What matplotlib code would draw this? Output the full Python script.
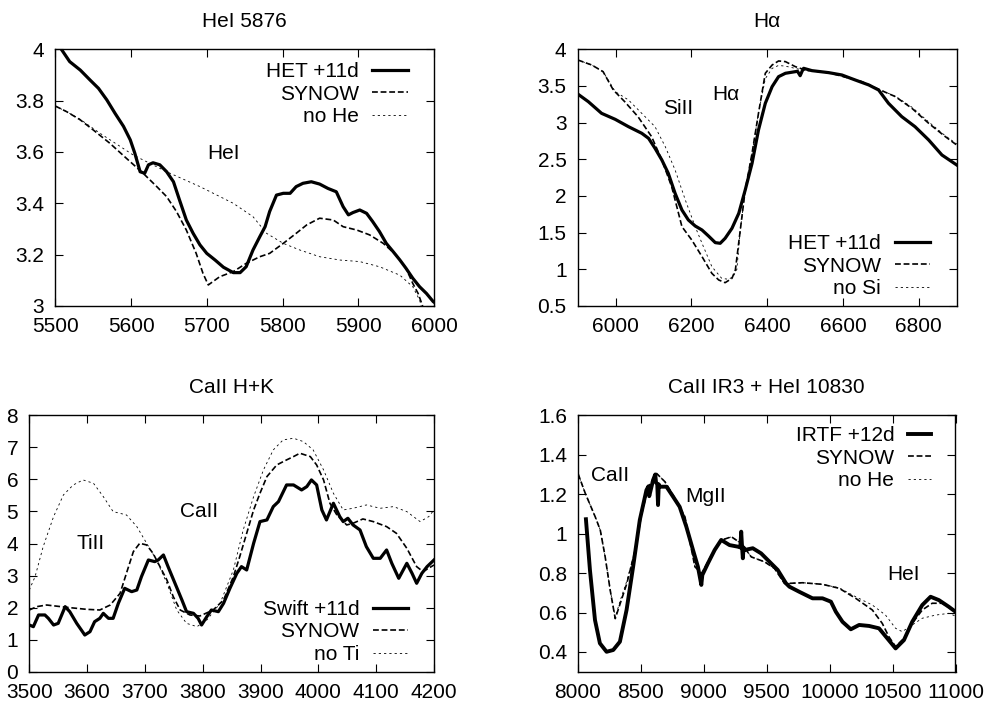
import matplotlib
matplotlib.use("Agg")
import matplotlib.pyplot as plt
from matplotlib.ticker import FixedLocator, FormatStrFormatter

plt.rcParams['font.family'] = ['Liberation Sans', 'DejaVu Sans']
plt.rcParams['lines.scale_dashes'] = False

# ---------------- Panel 1: HeI 5876 ----------------
p1_title = "HeI 5876"
p1_het_x = [5500, 5508, 5519, 5533, 5546, 5557, 5568, 5579, 5590, 5599, 5605, 5612, 5618, 5623, 5629,
            5638, 5647, 5656, 5664, 5673, 5682, 5691, 5700, 5711, 5722, 5735, 5744, 5752, 5761, 5770,
            5777, 5783, 5792, 5801, 5810, 5818, 5827, 5838, 5849, 5860, 5871, 5880, 5887, 5893, 5902,
            5911, 5919, 5928, 5937, 5946, 5955, 5963, 5972, 5981, 5990, 5999, 6000]
p1_het_y = [4.03, 4.00, 3.952, 3.919, 3.88, 3.848, 3.803, 3.75, 3.70, 3.647, 3.595, 3.523, 3.517, 3.55, 3.558,
            3.55, 3.523, 3.484, 3.413, 3.335, 3.283, 3.238, 3.205, 3.179, 3.151, 3.13, 3.13, 3.153, 3.218, 3.27,
            3.309, 3.368, 3.432, 3.439, 3.439, 3.465, 3.478, 3.484, 3.475, 3.458, 3.445, 3.387, 3.355, 3.364, 3.374,
            3.361, 3.329, 3.29, 3.244, 3.212, 3.179, 3.147, 3.108, 3.075, 3.049, 3.017, 3.015]
p1_syn_x = [5500, 5515, 5533, 5550, 5572, 5594, 5616, 5634, 5647, 5660, 5673, 5686, 5695, 5702, 5717,
            5735, 5752, 5770, 5783, 5801, 5818, 5832, 5849, 5867, 5880, 5898, 5915, 5933, 5950, 5963,
            5972, 5979, 5985]
p1_syn_y = [3.779, 3.757, 3.725, 3.686, 3.634, 3.575, 3.517, 3.465, 3.426, 3.368, 3.296, 3.205, 3.127, 3.082, 3.114,
            3.134, 3.166, 3.192, 3.205, 3.244, 3.283, 3.316, 3.342, 3.335, 3.309, 3.296, 3.277, 3.244, 3.199, 3.147,
            3.088, 3.049, 3.0]
p1_nohe_x = [5500, 5515, 5533, 5559, 5603, 5647, 5691, 5735, 5761, 5779, 5801, 5823, 5849, 5876, 5902,
             5928, 5955, 5972, 5981, 5983]
p1_nohe_y = [3.779, 3.757, 3.727, 3.673, 3.588, 3.523, 3.465, 3.40, 3.348, 3.283, 3.244, 3.218, 3.192, 3.179, 3.173,
             3.153, 3.12, 3.075, 3.023, 3.0]
p1_labels = ["HET +11d", "SYNOW", "no He"]
p1_xticks = [5500, 5600, 5700, 5800, 5900, 6000]
p1_yticks = [3.0, 3.2, 3.4, 3.6, 3.8, 4.0]
p1_notes = [("HeI", 5722, 3.595)]

# ---------------- Panel 2: H-alpha ----------------
p2_title = "Hα"
p2_het_x = [5900, 5928, 5963, 5999, 6034, 6069, 6087, 6104, 6122, 6139, 6157, 6175, 6192, 6210, 6228,
            6245, 6263, 6276, 6289, 6307, 6325, 6342, 6360, 6377, 6395, 6413, 6430, 6448, 6474, 6480,
            6487, 6492, 6496, 6518, 6562, 6597, 6632, 6668, 6694, 6720, 6755, 6790, 6826, 6861, 6900]
p2_het_y = [3.391, 3.286, 3.127, 3.045, 2.945, 2.855, 2.786, 2.65, 2.491, 2.309, 2.036, 1.809, 1.673, 1.591, 1.536,
            1.455, 1.364, 1.355, 1.423, 1.559, 1.764, 2.082, 2.445, 2.90, 3.264, 3.491, 3.627, 3.673, 3.695, 3.70,
            3.64, 3.70, 3.741, 3.709, 3.682, 3.65, 3.582, 3.514, 3.445, 3.264, 3.082, 2.945, 2.764, 2.559, 2.423]
p2_syn_x = [5900, 5937, 5967, 5994, 6024, 6059, 6095, 6122, 6148, 6175, 6201, 6228, 6254, 6272, 6289,
            6307, 6316, 6329, 6342, 6360, 6377, 6395, 6413, 6430, 6448, 6474, 6500, 6562, 6650, 6694,
            6738, 6782, 6826, 6870, 6900]
p2_syn_y = [3.855, 3.786, 3.695, 3.445, 3.286, 3.082, 2.809, 2.491, 2.127, 1.582, 1.40, 1.173, 0.945, 0.855, 0.818,
            0.877, 0.991, 1.536, 2.082, 2.582, 3.127, 3.673, 3.786, 3.841, 3.832, 3.764, 3.718, 3.682, 3.559, 3.455,
            3.355, 3.195, 2.991, 2.809, 2.695]
p2_nosi_x = [5900, 5937, 5967, 5999, 6034, 6069, 6104, 6131, 6157, 6184, 6210, 6228, 6254, 6280, 6298,
             6310, 6320, 6329, 6342, 6360, 6377, 6395, 6413, 6430, 6448, 6474, 6500, 6562, 6650, 6694,
             6738, 6782, 6826, 6870, 6900]
p2_nosi_y = [3.855, 3.786, 3.695, 3.423, 3.309, 3.127, 2.945, 2.673, 2.355, 1.945, 1.582, 1.355, 1.036, 0.877, 0.864,
             0.90, 1.0, 1.536, 2.082, 2.582, 3.127, 3.60, 3.74, 3.78, 3.77, 3.74, 3.71, 3.682, 3.559, 3.455,
             3.36, 3.21, 3.01, 2.82, 2.71]
p2_labels = ["HET +11d", "SYNOW", "no Si"]
p2_xticks = [6000, 6200, 6400, 6600, 6800]
p2_yticks = [0.5, 1.0, 1.5, 2.0, 2.5, 3.0, 3.5, 4.0]
p2_notes = [("SiII", 6166, 3.195), ("Hα", 6290, 3.39)]

# ---------------- Panel 3: CaII H+K ----------------
p3_title = "CaII H+K"
p3_swift_x = [3500, 3507, 3516, 3527, 3533, 3542, 3550, 3562, 3570, 3582, 3596, 3605, 3613, 3622, 3628,
              3637, 3645, 3654, 3665, 3677, 3686, 3694, 3706, 3717, 3723, 3732, 3740, 3752, 3764, 3772,
              3784, 3792, 3798, 3807, 3815, 3827, 3836, 3847, 3859, 3867, 3876, 3888, 3899, 3911, 3922,
              3931, 3945, 3957, 3971, 3980, 3988, 3997, 4006, 4014, 4026, 4037, 4043, 4051, 4060, 4072,
              4083, 4095, 4107, 4118, 4127, 4139, 4153, 4162, 4170, 4179, 4188, 4200]
p3_swift_y = [1.457, 1.405, 1.77, 1.77, 1.665, 1.457, 1.509, 2.03, 1.873, 1.509, 1.145, 1.249, 1.561, 1.665, 1.821,
              1.665, 1.665, 2.133, 2.601, 2.497, 2.549, 2.966, 3.486, 3.434, 3.486, 3.642, 3.278, 2.758, 2.237, 1.873,
              1.821, 1.665, 1.457, 1.717, 1.925, 1.873, 2.133, 2.601, 3.07, 3.278, 3.174, 4.006, 4.683, 4.735, 5.151,
              5.307, 5.827, 5.827, 5.671, 5.775, 5.983, 5.827, 5.047, 4.735, 5.255, 4.839, 4.683, 4.787, 4.579, 4.423,
              3.902, 3.538, 3.538, 3.798, 3.382, 2.914, 3.382, 3.07, 2.758, 3.07, 3.278, 3.486]
p3_syn_x = [3500, 3513, 3530, 3565, 3599, 3622, 3640, 3657, 3668, 3680, 3691, 3703, 3714, 3726, 3738,
            3749, 3761, 3778, 3795, 3818, 3836, 3853, 3864, 3876, 3888, 3899, 3911, 3928, 3945, 3957,
            3968, 3986, 3997, 4009, 4020, 4032, 4049, 4060, 4077, 4095, 4118, 4135, 4153, 4170, 4181, 4200]
p3_syn_y = [1.925, 2.03, 2.081, 2.008, 1.946, 1.925, 2.081, 2.445, 3.07, 3.746, 4.006, 3.954, 3.694, 3.278, 2.862,
            2.341, 1.925, 1.769, 1.738, 1.925, 2.237, 2.966, 3.59, 4.318, 5.047, 5.567, 6.087, 6.451, 6.608, 6.712,
            6.816, 6.712, 6.451, 5.983, 5.255, 4.891, 4.579, 4.631, 4.766, 4.683, 4.527, 4.318, 3.85, 3.278, 3.122, 3.33]
p3_noti_x = [3500, 3510, 3524, 3542, 3559, 3576, 3593, 3611, 3628, 3645, 3668, 3686, 3703, 3720, 3738,
             3755, 3772, 3790, 3807, 3830, 3853, 3870, 3888, 3905, 3922, 3939, 3957, 3974, 3991, 4009,
             4026, 4043, 4060, 4083, 4107, 4130, 4153, 4176, 4191, 4200]
p3_noti_y = [2.549, 2.966, 3.902, 4.839, 5.515, 5.827, 5.983, 5.879, 5.463, 4.995, 4.891, 4.527, 4.006, 3.486, 2.758,
             1.925, 1.509, 1.405, 1.613, 2.133, 3.174, 4.423, 5.463, 6.295, 6.92, 7.232, 7.284, 7.18, 6.92, 6.295,
             5.567, 5.047, 5.099, 5.203, 5.099, 5.151, 4.995, 4.683, 4.839, 5.047]
p3_labels = ["Swift +11d", "SYNOW", "no Ti"]
p3_xticks = [3500, 3600, 3700, 3800, 3900, 4000, 4100, 4200]
p3_yticks = [0, 1, 2, 3, 4, 5, 6, 7, 8]
p3_notes = [("TiII", 3606, 4.006), ("CaII", 3794, 4.995)]

# ---------------- Panel 4: CaII IR3 + HeI 10830 ----------------
p4_title = "CaII IR3 + HeI 10830"
p4_irtf_x = [8063, 8095, 8135, 8174, 8227, 8280, 8333, 8386, 8438, 8491, 8544, 8560, 8566, 8597, 8614,
             8620, 8630, 8636, 8642, 8650, 8703, 8756, 8808, 8861, 8914, 8953, 8980, 8988, 9033, 9086,
             9138, 9204, 9270, 9290, 9297, 9304, 9310, 9316, 9323, 9389, 9455, 9521, 9587, 9653, 9680,
             9759, 9864, 9943, 10010, 10049, 10102, 10168, 10234, 10313, 10392, 10458, 10524, 10590, 10656, 10736,
             10802, 10868, 10947, 11000]
p4_irtf_y = [1.073, 0.815, 0.562, 0.444, 0.401, 0.41, 0.452, 0.613, 0.832, 1.069, 1.221, 1.24, 1.19, 1.272, 1.30,
             1.26, 1.25, 1.145, 1.25, 1.238, 1.238, 1.187, 1.136, 1.035, 0.917, 0.832, 0.74, 0.79, 0.85, 0.917,
             0.968, 0.942, 0.934, 0.93, 1.01, 0.93, 0.875, 0.93, 0.917, 0.926, 0.90, 0.858, 0.816, 0.748, 0.731,
             0.705, 0.672, 0.672, 0.655, 0.604, 0.553, 0.515, 0.537, 0.532, 0.52, 0.469, 0.418, 0.46, 0.553, 0.638,
             0.68, 0.663, 0.629, 0.604]
p4_syn_x = [8000, 8058, 8137, 8177, 8216, 8256, 8296, 8335, 8388, 8454, 8507, 8559, 8625, 8691, 8771,
            8850, 8929, 8982, 9061, 9140, 9219, 9298, 9377, 9483, 9562, 9641, 9680, 9786, 9943, 10075,
            10207, 10339, 10418, 10471, 10524, 10590, 10656, 10736, 10815, 10894, 11000]
p4_syn_y = [1.305, 1.204, 1.085, 1.018, 0.882, 0.713, 0.569, 0.645, 0.747, 0.916, 1.102, 1.238, 1.305, 1.263, 1.179,
            1.085, 0.832, 0.798, 0.891, 0.967, 0.984, 0.95, 0.882, 0.857, 0.823, 0.747, 0.748, 0.751, 0.743, 0.723,
            0.672, 0.613, 0.545, 0.477, 0.427, 0.469, 0.545, 0.613, 0.647, 0.647, 0.604]
p4_nohe_x = [8000, 8058, 8137, 8177, 8216, 8256, 8296, 8335, 8388, 8454, 8507, 8559, 8625, 8691, 8771,
             8850, 8929, 8982, 9061, 9140, 9219, 9298, 9377, 9483, 9562, 9641, 9680, 9786, 9943, 10075,
             10207, 10339, 10444, 10524, 10577, 10656, 10736, 10842, 10947, 11000]
p4_nohe_y = [1.305, 1.204, 1.085, 1.018, 0.882, 0.713, 0.575, 0.66, 0.76, 0.916, 1.102, 1.238, 1.305, 1.263, 1.179,
             1.085, 0.832, 0.798, 0.891, 0.967, 0.984, 0.95, 0.882, 0.857, 0.823, 0.747, 0.748, 0.751, 0.743, 0.725,
             0.68, 0.638, 0.587, 0.52, 0.503, 0.537, 0.571, 0.587, 0.596, 0.582]
p4_labels = ["IRTF +12d", "SYNOW", "no He"]
p4_xticks = [8000, 8500, 9000, 9500, 10000, 10500, 11000]
p4_yticks = [0.4, 0.6, 0.8, 1.0, 1.2, 1.4, 1.6]
p4_notes = [("CaII", 8256, 1.297), ("MgII", 9013, 1.19), ("HeI", 10586, 0.794)]

FS = 15
SOLID = dict(color='black', lw=2.3, solid_joinstyle='round')
DASH = dict(color='black', lw=1.2, linestyle=(0, (4.2, 2.0)))
DOT = dict(color='black', lw=0.6, linestyle=(0, (1.6, 2.2)))

fig = plt.figure(figsize=(9.9, 7.04), dpi=100)
W, H = 990.0, 704.0


def make_ax(l, t, r, b):
    return fig.add_axes([l / W, 1 - b / H, (r - l) / W, (b - t) / H])


def style(ax, xlim, ylim, xticks, yticks, fmt, title):
    ax.set_xlim(*xlim)
    ax.set_ylim(*ylim)
    ax.xaxis.set_major_locator(FixedLocator(xticks))
    ax.yaxis.set_major_locator(FixedLocator(yticks))
    ax.xaxis.set_major_formatter(FormatStrFormatter('%g'))
    ax.yaxis.set_major_formatter(FormatStrFormatter(fmt))
    ax.tick_params(direction='in', length=5.8, width=0.8, top=True, right=True,
                   labelsize=FS, pad=8)
    for s in ax.spines.values():
        s.set_linewidth(1.0)
    ax.set_title(title, fontsize=FS, pad=16)


def legend(ax, labels, loc, anchor, hl):
    leg = ax.legend(labels, loc=loc, bbox_to_anchor=anchor, markerfirst=False, frameon=False,
                    fontsize=FS, handlelength=hl, handletextpad=0.65, labelspacing=0.17,
                    borderpad=0, borderaxespad=0)
    return leg


# Panel 1
ax1 = make_ax(55.3, 49.3, 434, 306)
ax1.plot(p1_het_x, p1_het_y, **SOLID)
ax1.plot(p1_syn_x, p1_syn_y, **DASH)
ax1.plot(p1_nohe_x, p1_nohe_y, **DOT)
style(ax1, (5500, 6000), (3, 4), p1_xticks, p1_yticks, '%g', p1_title)
legend(ax1, p1_labels, 'upper right', (0.931, 0.95), 1.7)
for s, x, y in p1_notes:
    ax1.text(x, y, s, fontsize=FS, ha='center', va='center')

# Panel 2
ax2 = make_ax(577.7, 49.3, 956.7, 306)
ax2.plot(p2_het_x, p2_het_y, **SOLID)
ax2.plot(p2_syn_x, p2_syn_y, **DASH)
ax2.plot(p2_nosi_x, p2_nosi_y, **DOT)
style(ax2, (5900, 6900), (0.5, 4), p2_xticks, p2_yticks, '%g', p2_title)
legend(ax2, p2_labels, 'lower right', (0.93, 0.03), 1.7)
for s, x, y in p2_notes:
    ax2.text(x, y, s, fontsize=FS, ha='center', va='center')

# Panel 3
ax3 = make_ax(29.3, 415.3, 434, 671.7)
ax3.plot(p3_swift_x, p3_swift_y, **SOLID)
ax3.plot(p3_syn_x, p3_syn_y, **DASH)
ax3.plot(p3_noti_x, p3_noti_y, **DOT)
style(ax3, (3500, 4200), (0, 8), p3_xticks, p3_yticks, '%g', p3_title)
legend(ax3, p3_labels, 'lower right', (0.936, 0.03), 1.7)
for s, x, y in p3_notes:
    ax3.text(x, y, s, fontsize=FS, ha='center', va='center')

# Panel 4
ax4 = make_ax(578, 415.3, 955.5, 671.7)
ax4.plot(p4_irtf_x, p4_irtf_y, color='black', lw=2.8, solid_joinstyle='round')
ax4.plot(p4_syn_x, p4_syn_y, **DASH)
ax4.plot(p4_nohe_x, p4_nohe_y, **DOT)
style(ax4, (8000, 11000), (0.3, 1.6), p4_xticks, p4_yticks, '%g', p4_title)
legend(ax4, p4_labels, 'upper right', (0.934, 0.958), 1.1)
for s, x, y in p4_notes:
    ax4.text(x, y, s, fontsize=FS, ha='center', va='center')

fig.savefig("out.png", dpi=100)
